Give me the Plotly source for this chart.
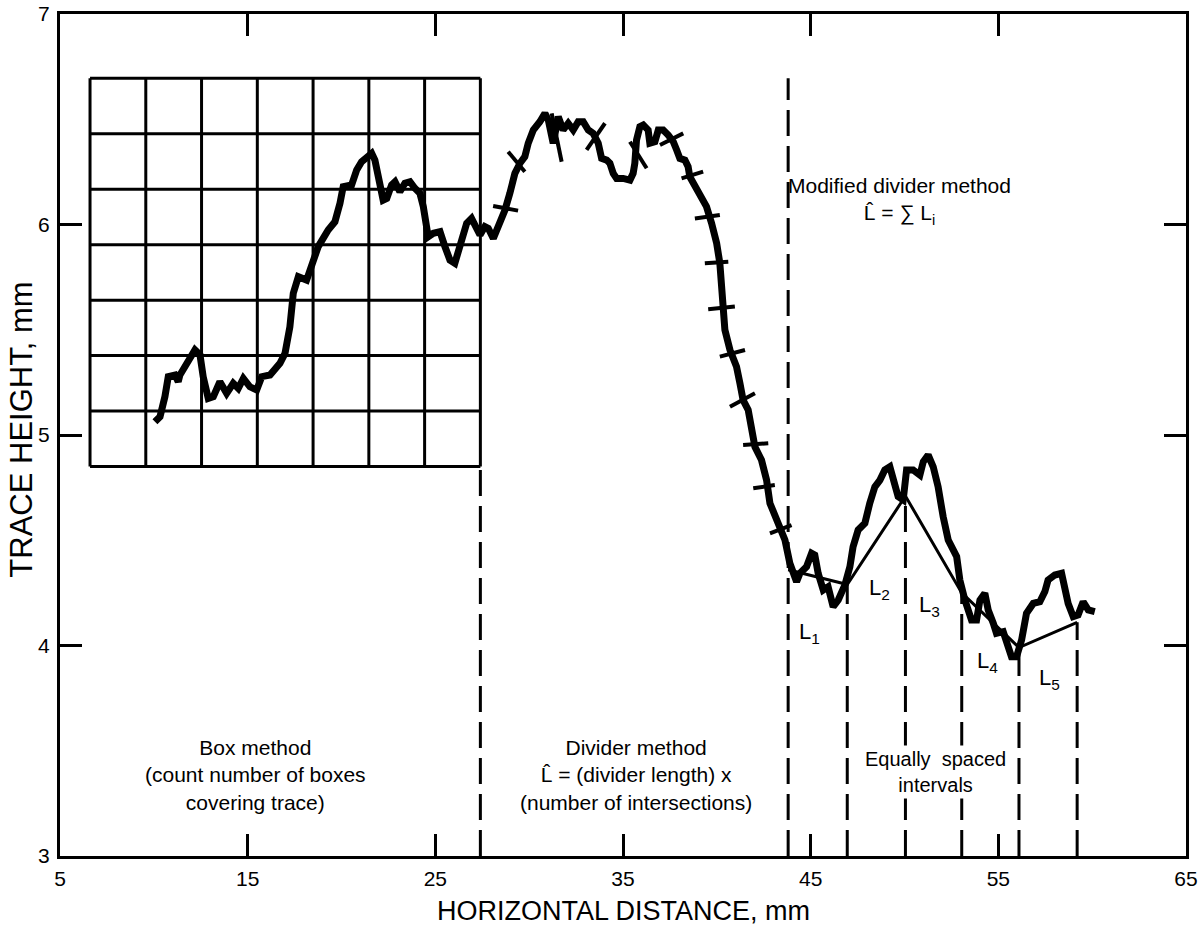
import plotly.graph_objects as go

# ---------------- data (mm) ----------------
trace_x = [10.06,10.33,10.59,10.77,11.13,11.30,11.39,11.75,12.19,12.46,
           12.63,12.90,13.17,13.52,13.88,14.23,14.50,14.77,15.12,15.48,
           15.75,16.19,16.72,16.99,17.25,17.43,17.70,18.14,18.50,18.76,
           19.29,19.65,19.92,20.09,20.54,20.81,21.07,21.34,21.61,21.78,
           22.05,22.22,22.41,22.67,22.85,23.11,23.38,23.65,23.91,24.18,
           24.36,24.62,24.89,25.25,25.51,25.78,26.04,26.40,26.67,26.93,
           27.20,27.38,27.64,27.82,28.09,28.44,28.71,28.97,29.24,29.51,
           29.77,29.95,30.22,30.57,30.84,31.02,31.28,31.55,31.81,32.08,
           32.35,32.61,32.88,33.15,33.41,33.68,33.86,34.13,34.30,34.48,
           34.66,35.01,35.37,35.54,35.63,35.72,35.90,36.08,36.34,36.43,
           36.70,36.88,37.14,37.41,37.68,37.86,38.03,38.30,38.47,38.56,
           38.92,39.27,39.45,39.72,39.99,40.16,40.25,40.34,40.43,40.70,
           41.05,41.23,41.40,41.67,41.85,42.03,42.38,42.65,42.83,43.09,
           43.36,43.63,43.89,44.25,44.43,44.78,45.05,45.22,45.40,45.67,
           45.93,46.20,46.47,46.82,47.09,47.26,47.53,47.89,48.15,48.42,
           48.69,48.95,49.22,49.40,49.66,49.93,50.11,50.46,50.82,51.00,
           51.26,51.53,51.79,52.06,52.33,52.78,52.95,53.22,53.57,53.84,
           54.02,54.28,54.46,54.73,54.90,55.26,55.44,55.70,55.97,56.24,
           56.50,56.86,57.21,57.48,57.65,58.01,58.37,58.54,58.72,58.99,
           59.25,59.52,59.79,60.14]
trace_y = [5.063,5.087,5.182,5.277,5.285,5.253,5.285,5.341,5.404,5.380,
           5.277,5.174,5.182,5.253,5.198,5.246,5.222,5.269,5.229,5.214,
           5.277,5.285,5.341,5.388,5.514,5.673,5.752,5.736,5.831,5.895,
           5.974,6.013,6.101,6.180,6.188,6.259,6.298,6.314,6.338,6.306,
           6.180,6.116,6.124,6.188,6.203,6.156,6.196,6.203,6.172,6.148,
           6.085,5.942,5.958,5.966,5.895,5.831,5.816,5.911,6.006,6.029,
           5.990,5.950,5.990,5.982,5.934,6.006,6.069,6.148,6.243,6.291,
           6.322,6.386,6.449,6.488,6.528,6.496,6.386,6.512,6.449,6.481,
           6.449,6.488,6.488,6.449,6.433,6.386,6.314,6.306,6.291,6.243,
           6.219,6.219,6.211,6.243,6.291,6.401,6.465,6.473,6.449,6.386,
           6.393,6.449,6.449,6.425,6.393,6.354,6.314,6.306,6.275,6.227,
           6.164,6.116,6.085,6.006,5.911,5.816,5.704,5.594,5.499,5.404,
           5.324,5.246,5.166,5.119,5.039,4.944,4.881,4.786,4.676,4.612,
           4.564,4.501,4.391,4.303,4.343,4.374,4.438,4.430,4.343,4.264,
           4.279,4.184,4.216,4.287,4.374,4.469,4.549,4.581,4.676,4.754,
           4.786,4.834,4.849,4.786,4.707,4.691,4.834,4.834,4.810,4.873,
           4.905,4.849,4.754,4.612,4.501,4.422,4.311,4.216,4.121,4.121,
           4.216,4.248,4.169,4.106,4.058,4.066,4.010,3.947,3.947,4.026,
           4.153,4.200,4.208,4.256,4.311,4.335,4.343,4.279,4.200,4.137,
           4.145,4.208,4.169,4.161]

# divider intersection marks (segment start / end)
div_x0 = [28.08, 28.88, 31.20, 33.06, 35.37, 36.97, 38.12, 38.83, 39.36, 39.54, 40.16, 40.70, 41.40, 41.94, 42.83]
div_y0 = [6.088, 6.346, 6.528, 6.354, 6.393, 6.378, 6.219, 6.029, 5.816, 5.597, 5.372, 5.134, 4.952, 4.747, 4.533]
div_x1 = [29.41, 29.77, 31.73, 34.04, 36.26, 38.21, 39.27, 40.16, 40.61, 40.96, 41.50, 42.03, 42.74, 43.09, 43.98]
div_y1 = [6.066, 6.251, 6.298, 6.481, 6.267, 6.433, 6.251, 6.045, 5.823, 5.610, 5.404, 5.198, 4.961, 4.762, 4.572]

# modified divider method: equally spaced interval boundaries and chord points
chord_x = [43.8, 46.95, 50.05, 53.05, 56.1, 59.2]
chord_y = [4.36, 4.29, 4.71, 4.25, 3.99, 4.11]
chord_labels = ["L<sub>1</sub>", "L<sub>2</sub>", "L<sub>3</sub>", "L<sub>4</sub>", "L<sub>5</sub>"]
label_x = [44.96, 48.69, 51.35, 54.44, 57.74]
label_y = [4.06, 4.27, 4.19, 3.92, 3.84]

# box-method grid
grid_x = [6.6, 27.4]
grid_y = [4.85, 6.695]
grid_cells = 7

x_ticks = [5, 15, 25, 35, 45, 55, 65]
y_ticks = [3, 4, 5, 6, 7]

FONT = "Liberation Sans, Arial, Helvetica, sans-serif"

fig = go.Figure()

# divider marks
dx, dy = [], []
for a, b, c, d in zip(div_x0, div_y0, div_x1, div_y1):
    dx += [a, c, None]
    dy += [b, d, None]
fig.add_trace(go.Scatter(x=dx, y=dy, mode="lines",
                         line=dict(color="black", width=4), hoverinfo="skip", showlegend=False))

# chords
fig.add_trace(go.Scatter(x=chord_x, y=chord_y, mode="lines",
                         line=dict(color="black", width=3), hoverinfo="skip", showlegend=False))

# main trace
fig.add_trace(go.Scatter(x=trace_x, y=trace_y, mode="lines",
                         line=dict(color="black", width=7), hoverinfo="skip", showlegend=False))

shapes = []
# grid
gx0, gx1 = grid_x
gy0, gy1 = grid_y
for i in range(grid_cells + 1):
    xv = gx0 + (gx1 - gx0) * i / grid_cells
    yv = gy0 + (gy1 - gy0) * i / grid_cells
    shapes.append(dict(type="line", xref="x", yref="y", x0=xv, x1=xv, y0=gy0, y1=gy1,
                       line=dict(color="black", width=3)))
    shapes.append(dict(type="line", xref="x", yref="y", x0=gx0, x1=gx1, y0=yv, y1=yv,
                       line=dict(color="black", width=3)))

dash = "26px,10px"
# dashed separators
shapes.append(dict(type="line", xref="x", yref="y", x0=gx1, x1=gx1, y0=y_ticks[0], y1=gy0,
                   line=dict(color="black", width=3, dash=dash)))
shapes.append(dict(type="line", xref="x", yref="y", x0=chord_x[0], x1=chord_x[0], y0=y_ticks[0], y1=gy1,
                   line=dict(color="black", width=3, dash=dash)))
for xv, yv in zip(chord_x[1:], chord_y[1:]):
    shapes.append(dict(type="line", xref="x", yref="y", x0=xv, x1=xv, y0=y_ticks[0], y1=yv,
                       line=dict(color="black", width=3, dash=dash)))

annotations = []
txt = dict(family=FONT, size=21, color="black")
annotations.append(dict(x=15.4, y=3.385, xref="x", yref="y", showarrow=False, align="center",
                        text="Box method<br>(count number of boxes<br>covering trace)", font=txt))
annotations.append(dict(x=35.7, y=3.385, xref="x", yref="y", showarrow=False, align="center",
                        text="Divider method<br>L\u0302 = (divider length) x<br>(number of intersections)", font=txt))
annotations.append(dict(x=49.75, y=6.11, xref="x", yref="y", showarrow=False, align="center",
                        text="Modified divider method<br>L\u0302 = \u2211 L<sub>i</sub>", font=txt))
annotations.append(dict(x=51.67, y=3.40, xref="x", yref="y", showarrow=False, align="center",
                        bgcolor="white", borderpad=2,
                        text="Equally\u00a0 spaced<br>intervals", font=dict(family=FONT, size=20, color="black")))
for t, xv, yv in zip(chord_labels, label_x, label_y):
    annotations.append(dict(x=xv, y=yv, xref="x", yref="y", showarrow=False,
                            text=t, font=dict(family=FONT, size=22, color="black")))

# axis titles
annotations.append(dict(x=0.5, y=-0.065, xref="paper", yref="paper", showarrow=False,
                        xanchor="center", yanchor="middle", text="HORIZONTAL DISTANCE, mm",
                        font=dict(family=FONT, size=27, color="black")))
annotations.append(dict(x=-0.034, y=0.506, xref="paper", yref="paper", showarrow=False,
                        xanchor="center", yanchor="middle", textangle=-90, text="TRACE HEIGHT, mm",
                        font=dict(family=FONT, size=31, color="black")))

fig.update_layout(
    width=1200, height=928,
    margin=dict(l=60, r=14, t=14, b=72),
    paper_bgcolor="white", plot_bgcolor="white",
    shapes=shapes, annotations=annotations,
    showlegend=False,
)
axis_common = dict(showgrid=False, zeroline=False, showline=True, linecolor="black", linewidth=3,
                   mirror="allticks", ticks="inside", ticklen=22, tickwidth=3, tickcolor="black",
                   automargin=False,
                   tickfont=dict(family=FONT, size=21, color="black"))
fig.update_xaxes(range=[5, 65], tickvals=x_ticks, ticktext=[str(v) for v in x_ticks],
                 ticklabelstandoff=2, **axis_common)
fig.update_yaxes(range=[3, 7], tickvals=y_ticks, ticktext=[str(v) for v in y_ticks],
                 ticklabelstandoff=3, **axis_common)

fig.write_html("out.html")
